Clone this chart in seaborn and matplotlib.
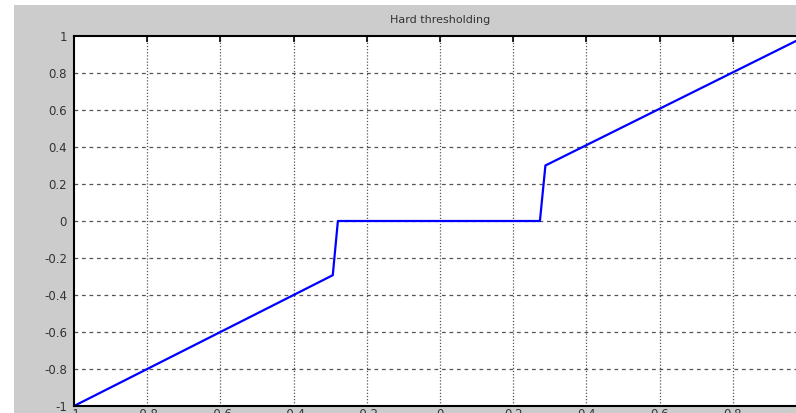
import matplotlib
matplotlib.use('Agg')
from matplotlib import pyplot as plt
from matplotlib.patches import Rectangle
import seaborn as sns
import pandas as pd

# hard thresholding curve
x_vals = [-1.0, -0.293, -0.279, 0.273, 0.288, 1.0]
y_vals = [-1.0, -0.293, 0.0, 0.0, 0.30, 1.0]
tick_vals = [-1, -0.8, -0.6, -0.4, -0.2, 0, 0.2, 0.4, 0.6, 0.8, 1]
tick_labels = ['-1', '-0.8', '-0.6', '-0.4', '-0.2', '0', '0.2', '0.4', '0.6', '0.8', '1']

df = pd.DataFrame({'x': x_vals, 'y': y_vals})

sns.set_style('white')
plt.rcParams['font.family'] = ['DejaVu Sans']

fig = plt.figure(figsize=(7.96, 4.13), dpi=100)
fig.patch.set_facecolor('white')
# grey matlab-like panel, leaving a thin white strip at top and left
fig.patches.append(Rectangle((14 / 796, 0), 1, 1 - 5 / 413, transform=fig.transFigure,
                             facecolor='#cccccc', edgecolor='none', zorder=-10))

ax = fig.add_axes([74 / 796, 7 / 413, 732 / 796, 370 / 413])
ax.set_facecolor('white')

sns.lineplot(data=df, x='x', y='y', sort=False, color='#0000ff', linewidth=1.6, ax=ax)

ax.set_xlim(-1, 1)
ax.set_ylim(-1, 1)
ax.set_xticks(tick_vals)
ax.set_xticklabels(tick_labels)
ax.set_yticks(tick_vals)
ax.set_yticklabels(tick_labels)
ax.set_xlabel('')
ax.set_ylabel('')

# dotted grid like matlab
for v in tick_vals[1:-1]:
    ax.axhline(v, color='#555555', linewidth=0.9, linestyle=(0, (3, 3)), zorder=0)
    ax.axvline(v, color='#555555', linewidth=0.9, linestyle=(0, (1, 1.5)), zorder=0)

ax.tick_params(axis='both', direction='in', length=4, width=1.2, color='black',
               labelsize=8.5, labelcolor='#333333', top=True, right=True, pad=5)
ax.tick_params(axis='x', pad=1.5)
for s in ax.spines.values():
    s.set_color('black')
    s.set_linewidth(1.5)

fig.text(440 / 796, 1 - 20 / 413, 'Hard thresholding', ha='center', va='center',
         fontsize=8, color='#333333')

fig.savefig('out.png', dpi=100, facecolor=fig.get_facecolor())
